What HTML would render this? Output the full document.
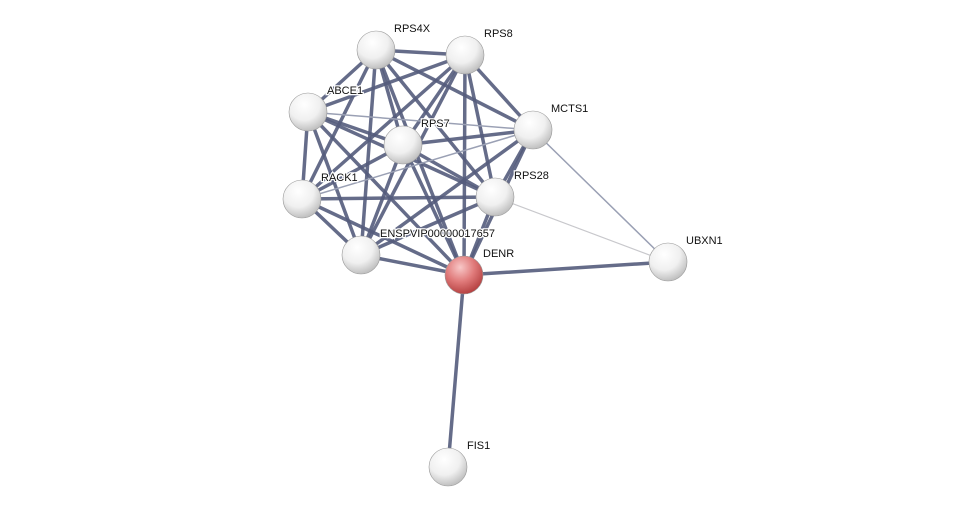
<!DOCTYPE html>
<html><head><meta charset="utf-8"><style>
body{margin:0;background:#fff;}
svg{display:block;font-family:"Liberation Sans",sans-serif;}
</style></head><body>
<svg width="975" height="512" viewBox="0 0 975 512">
<defs>
<radialGradient id="g" cx="40%" cy="30%" r="75%">
<stop offset="0" stop-color="#ffffff"/><stop offset="0.55" stop-color="#f0f0f0"/><stop offset="1" stop-color="#b8b8b8"/>
</radialGradient>
<radialGradient id="r" cx="40%" cy="30%" r="75%">
<stop offset="0" stop-color="#f8c8c8"/><stop offset="0.5" stop-color="#e07a7a"/><stop offset="1" stop-color="#b03a3a"/>
</radialGradient>
</defs>
<g stroke-linecap="round">
<!-- thick cluster edges -->
<g stroke="#545c7c" stroke-width="3.5" stroke-opacity="0.9">
<line x1="376" y1="50" x2="465" y2="55"/>
<line x1="376" y1="50" x2="308" y2="112"/>
<line x1="376" y1="50" x2="403" y2="145"/>
<line x1="376" y1="50" x2="302" y2="199"/>
<line x1="376" y1="50" x2="495" y2="197"/>
<line x1="376" y1="50" x2="361" y2="255"/>
<line x1="376" y1="50" x2="464" y2="275"/>
<line x1="376" y1="50" x2="533" y2="130"/>
<line x1="465" y1="55" x2="308" y2="112"/>
<line x1="465" y1="55" x2="403" y2="145"/>
<line x1="465" y1="55" x2="302" y2="199"/>
<line x1="465" y1="55" x2="495" y2="197"/>
<line x1="465" y1="55" x2="361" y2="255"/>
<line x1="465" y1="55" x2="464" y2="275"/>
<line x1="465" y1="55" x2="533" y2="130"/>
<line x1="308" y1="112" x2="403" y2="145"/>
<line x1="308" y1="112" x2="302" y2="199"/>
<line x1="308" y1="112" x2="495" y2="197"/>
<line x1="308" y1="112" x2="361" y2="255"/>
<line x1="308" y1="112" x2="464" y2="275"/>
<line x1="403" y1="145" x2="302" y2="199"/>
<line x1="403" y1="145" x2="495" y2="197"/>
<line x1="403" y1="145" x2="361" y2="255"/>
<line x1="403" y1="145" x2="464" y2="275"/>
<line x1="403" y1="145" x2="533" y2="130"/>
<line x1="302" y1="199" x2="495" y2="197"/>
<line x1="302" y1="199" x2="361" y2="255"/>
<line x1="302" y1="199" x2="464" y2="275"/>
<line x1="495" y1="197" x2="361" y2="255"/>
<line x1="495" y1="197" x2="464" y2="275"/>
<line x1="495" y1="197" x2="533" y2="130"/>
<line x1="361" y1="255" x2="464" y2="275"/>
<line x1="361" y1="255" x2="533" y2="130"/>
<line x1="464" y1="275" x2="533" y2="130"/>
<line x1="464" y1="275" x2="668" y2="262"/>
<line x1="464" y1="275" x2="448" y2="467"/>
</g>
<g stroke="#9aa0b4" stroke-width="1.5">
<line x1="308" y1="112" x2="533" y2="130"/>
<line x1="302" y1="199" x2="533" y2="130"/>
<line x1="533" y1="130" x2="668" y2="262"/>
</g>
<line x1="495" y1="197" x2="668" y2="262" stroke="#c8c8cc" stroke-width="1.2"/>
</g>
<g stroke="#999" stroke-width="0.6">
<circle cx="376" cy="50" r="19" fill="url(#g)"/>
<circle cx="465" cy="55" r="19" fill="url(#g)"/>
<circle cx="308" cy="112" r="19" fill="url(#g)"/>
<circle cx="533" cy="130" r="19" fill="url(#g)"/>
<circle cx="403" cy="145" r="19" fill="url(#g)"/>
<circle cx="302" cy="199" r="19" fill="url(#g)"/>
<circle cx="495" cy="197" r="19" fill="url(#g)"/>
<circle cx="361" cy="255" r="19" fill="url(#g)"/>
<circle cx="464" cy="275" r="19" fill="url(#r)"/>
<circle cx="668" cy="262" r="19" fill="url(#g)"/>
<circle cx="448" cy="467" r="19" fill="url(#g)"/>
</g>
<g font-size="11" fill="#111" stroke="#fff" stroke-width="2.5" paint-order="stroke">
<text x="394" y="32">RPS4X</text>
<text x="484" y="37">RPS8</text>
<text x="327" y="94">ABCE1</text>
<text x="551" y="112">MCTS1</text>
<text x="421" y="127">RPS7</text>
<text x="321" y="181">RACK1</text>
<text x="514" y="179">RPS28</text>
<text x="380" y="237">ENSPVIP00000017657</text>
<text x="483" y="257">DENR</text>
<text x="686" y="244">UBXN1</text>
<text x="467" y="449">FIS1</text>
</g>
</svg>
</body></html>
